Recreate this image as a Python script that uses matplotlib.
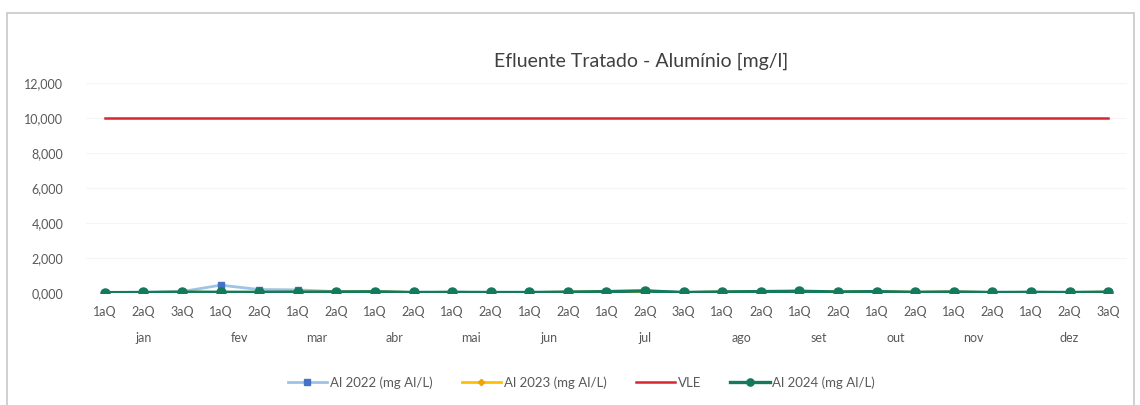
import numpy as np
import matplotlib.pyplot as plt
from matplotlib.patches import Rectangle

plt.rcParams['font.family'] = ['Lato', 'DejaVu Sans']

# Quinzenas e meses
quinzenas = ['1aQ', '2aQ', '3aQ', '1aQ', '2aQ', '1aQ', '2aQ', '1aQ', '2aQ',
             '1aQ', '2aQ', '1aQ', '2aQ', '1aQ', '2aQ', '3aQ', '1aQ', '2aQ',
             '1aQ', '2aQ', '1aQ', '2aQ', '1aQ', '2aQ', '1aQ', '2aQ', '3aQ']
meses = ['jan', 'fev', 'mar', 'abr', 'mai', 'jun', 'jul', 'ago', 'set', 'out', 'nov', 'dez']
n_por_mes = [3, 2, 2, 2, 2, 2, 3, 2, 2, 2, 2, 3]

# Valores (mg Al/L)
al_2022 = [0.02, 0.03, 0.08, 0.45, 0.20, 0.18, 0.08, 0.07, 0.03, 0.04, 0.03, 0.03, 0.05, 0.08, 0.12,
           0.03, 0.06, 0.08, 0.10, 0.06, 0.08, 0.04, 0.06, 0.03, 0.04, 0.03, 0.05]
al_2023 = [0.02, 0.03, 0.05, 0.04, 0.04, 0.05, 0.06, 0.07, 0.03, 0.04, 0.03, 0.03, 0.05, 0.08, 0.00,
           0.03, 0.06, 0.08, 0.10, 0.06, 0.08, 0.04, 0.06, 0.03, 0.04, 0.03, 0.05]
vle = [10.0] * 27
al_2024 = [0.02, 0.03, 0.05, 0.04, 0.04, 0.05, 0.06, 0.07, 0.03, 0.04, 0.03, 0.03, 0.05, 0.08, 0.12,
           0.03, 0.06, 0.08, 0.10, 0.06, 0.08, 0.04, 0.06, 0.03, 0.04, 0.03, 0.05]
y_ticks = [0, 2, 4, 6, 8, 10, 12]
y_labels = ['0,000', '2,000', '4,000', '6,000', '8,000', '10,000', '12,000']

x = np.arange(len(quinzenas))
cinza = '#595959'

fig = plt.figure(figsize=(11.4, 4.05), dpi=100)
ax = fig.add_axes([0.075, 0.2765, 0.914, 0.5185])

ax.plot(x, al_2022, color='#9dc3e6', lw=2, marker='s', ms=5, mfc='#4472c4', mec='#4472c4',
        label='Al 2022 (mg Al/L)', zorder=2)
ax.plot(x, al_2023, color='#ffc000', lw=2, marker='D', ms=4, mfc='#f0a500', mec='#f0a500',
        label='Al 2023 (mg Al/L)', zorder=2)
ax.plot(x, vle, color='#d9252f', lw=1.8, label='VLE', zorder=3)
ax.plot(x, al_2024, color='#137a5c', lw=2.4, marker='o', ms=6.5, mfc='#137a5c', mec='#137a5c',
        label='Al 2024 (mg Al/L)', zorder=4)

ax.set_xlim(-0.5, len(x) - 0.5)
ax.set_ylim(0, 12)
ax.set_yticks(y_ticks)
ax.set_yticklabels(y_labels)
ax.set_xticks(x)
ax.set_xticklabels(quinzenas)
ax.tick_params(axis='both', length=0, colors=cinza, labelsize=9)
ax.tick_params(axis='x', pad=9)
ax.tick_params(axis='y', pad=16)
ax.grid(axis='y', color='#f5f5f5', lw=0.8)
ax.set_axisbelow(True)
for s in ax.spines.values():
    s.set_visible(False)

# Rótulos dos meses centrados nas respetivas quinzenas
inicio = 0
for mes, n in zip(meses, n_por_mes):
    centro = inicio + (n - 1) / 2
    ax.text(centro, -0.215, mes, transform=ax.get_xaxis_transform(), ha='center', va='center',
            color=cinza, fontsize=9)
    inicio += n

fig.text(0.562, 0.848, 'Efluente Tratado - Alumínio [mg/l]', ha='center', va='center',
         fontsize=14, color='#404040')

fig.legend(loc='center', bbox_to_anchor=(0.51, 0.055), ncol=4, frameon=False, fontsize=9.5,
           handlelength=3, columnspacing=2.2, handletextpad=0.2, labelcolor=cinza,
           markerscale=0.8)

fig.patches.append(Rectangle((0.006, -0.05), 0.989, 1.017, transform=fig.transFigure,
                             fill=False, edgecolor='#c8c8c8', lw=1.2))

fig.savefig('out.png', dpi=100, facecolor='white')
